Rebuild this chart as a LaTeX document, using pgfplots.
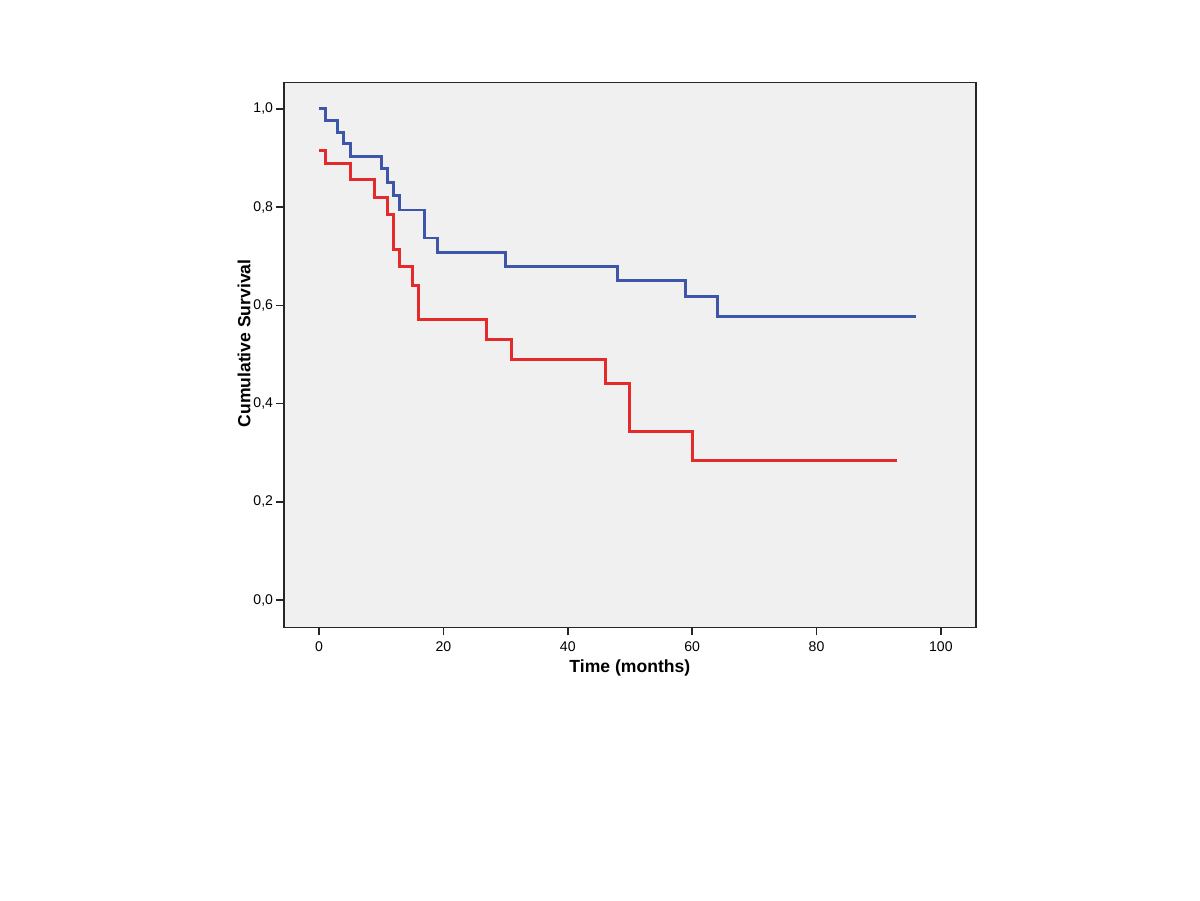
\documentclass[border=0pt]{standalone}
\usepackage{fontspec}
\setmainfont{Liberation Sans}
\usepackage{pgfplots}
\pgfplotsset{compat=1.18}
\definecolor{kmblue}{RGB}{62,86,170}
\definecolor{kmred}{RGB}{228,42,42}
\definecolor{bggray}{RGB}{240,240,240}
\begin{document}
\begin{tikzpicture}
\path[use as bounding box, fill=white] (0,0) rectangle (24cm,18cm);
\begin{axis}[
  at={(5.68cm,5.454cm)}, anchor=south west,
  width=13.834cm, height=10.9cm, scale only axis,
  xmin=-5.63, xmax=105.6, ymin=-0.0556, ymax=1.054,
  axis background/.style={fill=bggray},
  axis line style={line width=0.9pt, black!85},
  xtick={0,20,40,60,80,100},
  ytick={0,0.2,0.4,0.6,0.8,1.0},
  xtick pos=bottom, ytick pos=left,
  tick align=outside,
  major tick length=0.16cm,
  every tick/.style={line width=0.9pt, black!85},
  /pgf/number format/assume math mode=true,
  yticklabel style={/pgf/number format/.cd, fixed, fixed zerofill, precision=1, use comma, /tikz/.cd, font=\fontsize{8}{9}\selectfont, inner sep=1.5pt},
  xticklabel style={font=\fontsize{8}{9}\selectfont},
  xlabel={\textbf{Time (months)}},
  ylabel={\textbf{Cumulative Survival}},
  xlabel style={font=\fontsize{10}{12}\selectfont, at={(axis description cs:0.5,-0.0747)}, anchor=center},
  ylabel style={font=\fontsize{10}{12}\selectfont, at={(axis description cs:-0.0578,0.521)}, anchor=center, rotate=0},
  clip=false,
]
\addplot[const plot, kmblue, line width=1.7pt] coordinates {
(0,1.0) (1,0.976) (3,0.952) (4,0.929) (5,0.903) (10,0.878) (11,0.851) (12,0.823) (13,0.794) (17,0.737) (19,0.707) (30,0.679) (48,0.650) (59,0.618) (64,0.577) (96,0.577)
};
\addplot[const plot, kmred, line width=1.7pt] coordinates {
(0,0.916) (1,0.889) (5,0.857) (9,0.820) (11,0.784) (12,0.714) (13,0.678) (15,0.641) (16,0.571) (27,0.530) (31,0.489) (46,0.440) (50,0.343) (60,0.285) (93,0.285)
};
\end{axis}
\end{tikzpicture}
\end{document}
